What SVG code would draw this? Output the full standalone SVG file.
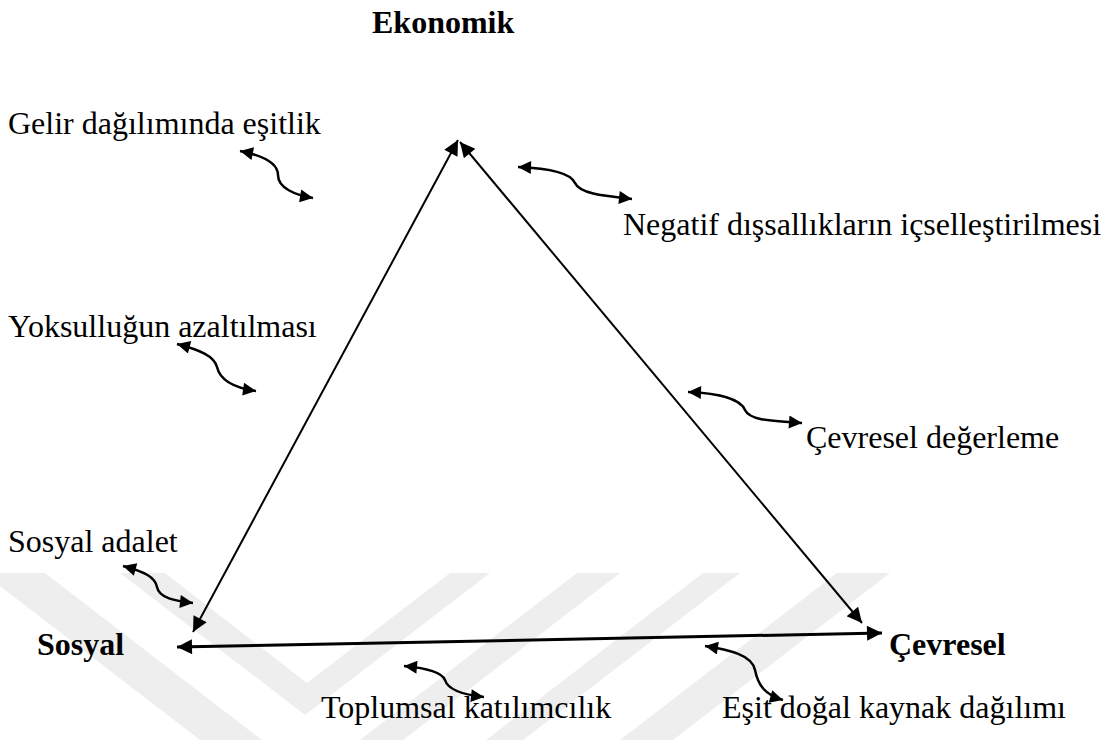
<svg xmlns="http://www.w3.org/2000/svg" width="1113" height="740" viewBox="0 0 1113 740">
<defs>
<style>
.t{font-family:'Liberation Serif','Times New Roman','DejaVu Serif',serif;font-size:32px;fill:#000}
.b{font-weight:bold}
.side{fill:none;stroke:#000;stroke-width:2}
.base{fill:none;stroke:#000;stroke-width:3}
.wave{fill:none;stroke:#000;stroke-width:2.5}
.wm{fill:#eeeeee}
</style>
<marker id="ah" viewBox="0 0 10 10" refX="10" refY="5" markerWidth="18" markerHeight="15" markerUnits="userSpaceOnUse" orient="auto-start-reverse">
<path d="M0,0 L10,5 L0,10 z" fill="#000"/>
</marker>
<marker id="ahs" viewBox="0 0 10 10" refX="10" refY="5" markerWidth="16" markerHeight="13" markerUnits="userSpaceOnUse" orient="auto-start-reverse">
<path d="M0,0 L10,5 L0,10 z" fill="#000"/>
</marker>
</defs>
<rect width="1113" height="740" fill="#fff"/>
<g id="watermark">
<polygon class="wm" points="0,573 45,573 262,740 200,740 0,586"/>
<polygon class="wm" points="120,573 165,573 307,683 450,573 490,573 305,715"/>
<polygon class="wm" points="577,573 620,573 403,740 360,740"/>
<polygon class="wm" points="703,573 740,573 523,740 486,740"/>
<polygon class="wm" points="837,573 890,573 673,740 620,740"/>
</g>
<g id="connectors">
<path class="side" d="M193,632 L458,140" marker-start="url(#ah)" marker-end="url(#ah)"/>
<path class="side" d="M460,142 L862,623" marker-start="url(#ah)" marker-end="url(#ah)"/>
<path class="base" d="M177,647 L882,633" marker-start="url(#ah)" marker-end="url(#ah)"/>
<path class="wave" d="M240,151 C260,155 278,162 278,175 C278,188 295,195 313,198" marker-start="url(#ahs)" marker-end="url(#ahs)"/>
<path class="wave" d="M518,167 C545,168 570,172 575,183 C580,194 605,196 632,199" marker-start="url(#ahs)" marker-end="url(#ahs)"/>
<path class="wave" d="M177,344 C200,350 214,356 217,367 C220,380 235,388 256,391" marker-start="url(#ahs)" marker-end="url(#ahs)"/>
<path class="wave" d="M688,392 C715,393 740,398 745,410 C750,421 775,421 802,423" marker-start="url(#ahs)" marker-end="url(#ahs)"/>
<path class="wave" d="M123,566 C145,572 155,577 157,587 C159,598 175,601 193,603" marker-start="url(#ahs)" marker-end="url(#ahs)"/>
<path class="wave" d="M404,666 C425,668 442,672 445,680 C448,690 465,695 484,697" marker-start="url(#ahs)" marker-end="url(#ahs)"/>
<path class="wave" d="M705,646 C730,650 752,655 755,670 C758,685 765,695 783,700" marker-start="url(#ahs)" marker-end="url(#ahs)"/>
</g>
<g id="node-ekonomik"><text class="t b" x="372" y="33">Ekonomik</text></g>
<g id="node-sosyal"><text class="t b" x="37" y="655">Sosyal</text></g>
<g id="node-cevresel"><text class="t b" x="889" y="655">Çevresel</text></g>
<g id="label-gelir"><text class="t" x="8" y="134">Gelir dağılımında eşitlik</text></g>
<g id="label-negatif"><text class="t" x="623" y="235">Negatif dışsallıkların içselleştirilmesi</text></g>
<g id="label-yoksul"><text class="t" x="8" y="337">Yoksulluğun azaltılması</text></g>
<g id="label-degerleme"><text class="t" x="806" y="448">Çevresel değerleme</text></g>
<g id="label-adalet"><text class="t" x="8" y="552">Sosyal adalet</text></g>
<g id="label-toplumsal"><text class="t" x="321" y="718">Toplumsal katılımcılık</text></g>
<g id="label-esit"><text class="t" x="722" y="718">Eşit doğal kaynak dağılımı</text></g>
</svg>
